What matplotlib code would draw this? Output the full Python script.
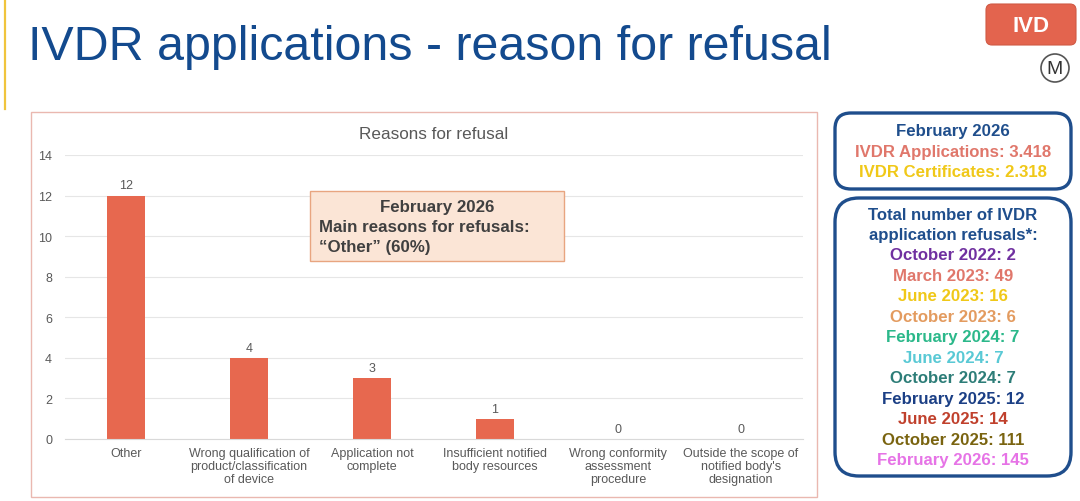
import matplotlib
matplotlib.use("Agg")
from matplotlib import pyplot as plt
from matplotlib.patches import FancyBboxPatch, Rectangle, Circle

plt.rcParams['font.family'] = ['Liberation Sans', 'DejaVu Sans']

# chart data
reasons = ["Other",
           "Wrong qualification of\nproduct/classification\nof device",
           "Application not\ncomplete",
           "Insufficient notified\nbody resources",
           "Wrong conformity\nassessment\nprocedure",
           "Outside the scope of\nnotified body's\ndesignation"]
counts = [12, 4, 3, 1, 0, 0]
y_ticks = [0, 2, 4, 6, 8, 10, 12, 14]

# side panel data
month_now = "February 2026"
applications = "3.418"
certificates = "2.318"
refusal_months = ["October 2022", "March 2023", "June 2023", "October 2023",
                  "February 2024", "June 2024", "October 2024", "February 2025",
                  "June 2025", "October 2025", "February 2026"]
refusal_totals = [2, 49, 16, 6, 7, 7, 7, 12, 14, 111, 145]
refusal_colors = ['#7030a0', '#e0776b', '#f0c818', '#e39b5f', '#2bb88a', '#59c9d5',
                  '#2d7d78', '#1b3f85', '#c0402c', '#7a6410', '#e673e6']

W, H = 1080, 502
navy = '#1f4e8c'
gray = '#595959'

fig = plt.figure(figsize=(W / 100, H / 100), dpi=100)
fig.patch.set_facecolor('white')

# bar chart
ax = fig.add_axes([64.5 / W, 1 - 440 / H, 738 / W, 284 / H])
ax.set_facecolor('none')
bars = ax.bar(range(len(counts)), counts, width=0.31, color='#e7684f', zorder=2)
ax.bar_label(bars, padding=3, fontsize=9, color=gray)
ax.set_xlim(-0.5, len(counts) - 0.5)
ax.set_ylim(0, 14)
ax.set_yticks(y_ticks)
ax.set_xticks(range(len(reasons)))
ax.set_xticklabels(reasons, linespacing=1.1)
ax.tick_params(axis='both', length=0, labelsize=9, labelcolor=gray)
ax.tick_params(axis='y', pad=9)
ax.tick_params(axis='x', pad=6)
ax.grid(axis='y', color='#e6e6e6', linewidth=0.8, zorder=0)
for s in ['top', 'right', 'left']:
    ax.spines[s].set_visible(False)
ax.spines['bottom'].set_color('#d9d9d9')
ax.set_title("Reasons for refusal", fontsize=12.3, color=gray, pad=12)

# overlay in pixel units
ov = fig.add_axes([0, 0, 1, 1], zorder=5)
ov.set_xlim(0, W)
ov.set_ylim(H, 0)
ov.axis('off')
ov.patch.set_alpha(0)

ov.plot([5, 5], [0, 110], color='#f0c43c', lw=1.6)
ov.text(28, 47, "IVDR applications - reason for refusal", fontsize=34.8,
        color='#134a8e', va='center', ha='left')

ov.add_patch(FancyBboxPatch((986, 5), 90, 41, boxstyle="round,pad=0,rounding_size=6",
                            fc='#e3644e', ec='#d05a45', lw=0.8))
ov.text(1031, 26, "IVD", fontsize=16, fontweight='bold', color='white',
        ha='center', va='center')
ov.add_patch(Circle((1055, 69), 14, fc='none', ec='#555555', lw=1.2))
ov.text(1055, 70, "M", fontsize=14, color='#333333', ha='center', va='center')

ov.add_patch(Rectangle((31, 113), 786, 385, fc='none', ec='#eab8b0', lw=1))

ov.add_patch(Rectangle((310, 192), 254, 70, fc='#fbe5d6', ec='#e8a580', lw=1))
ov.text(437, 208, month_now, fontsize=12.2, fontweight='bold', color='#404040',
        ha='center', va='center')
ov.text(319, 228, "Main reasons for refusals:", fontsize=12.2, fontweight='bold',
        color='#404040', ha='left', va='center')
ov.text(319, 248, "\u201cOther\u201d (60%)", fontsize=12.2, fontweight='bold',
        color='#404040', ha='left', va='center')

# side panels
fs = 12.1
ov.add_patch(FancyBboxPatch((835, 114), 236, 76, boxstyle="round,pad=0,rounding_size=16",
                            fc='white', ec=navy, lw=2.4))
cx = 953
ov.text(cx, 132, month_now, fontsize=fs, fontweight='bold', color=navy,
        ha='center', va='center')
ov.text(cx, 153, "IVDR Applications: " + applications, fontsize=fs, fontweight='bold',
        color='#e0776b', ha='center', va='center')
ov.text(cx, 173, "IVDR Certificates: " + certificates, fontsize=fs, fontweight='bold',
        color='#f0c818', ha='center', va='center')

ov.add_patch(FancyBboxPatch((835, 199), 236, 278, boxstyle="round,pad=0,rounding_size=24",
                            fc='white', ec=navy, lw=2.4))
ov.text(cx, 216, "Total number of IVDR", fontsize=fs, fontweight='bold', color=navy,
        ha='center', va='center')
ov.text(cx, 236, "application refusals*:", fontsize=fs, fontweight='bold', color=navy,
        ha='center', va='center')
for i, (m, n) in enumerate(zip(refusal_months, refusal_totals)):
    ov.text(cx, 256 + i * 20.47, f"{m}: {n}", fontsize=fs, fontweight='bold',
            color=refusal_colors[i], ha='center', va='center')

fig.savefig("out.png", dpi=100)
